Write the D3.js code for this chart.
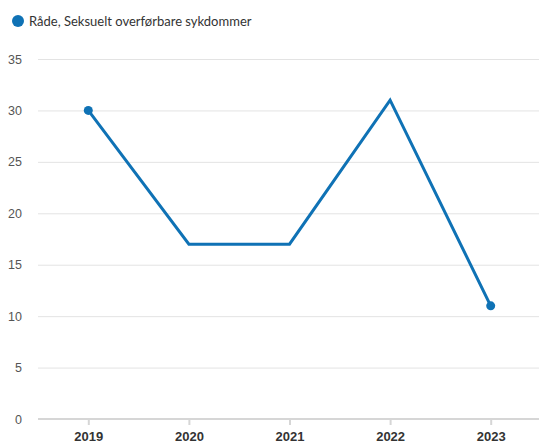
<!DOCTYPE html>
<html><head><meta charset="utf-8">
<script src="https://cdn.jsdelivr.net/npm/d3@7"></script>
<style>body{margin:0;background:#fff}svg{display:block;font-family:Lato,"Open Sans",sans-serif}</style>
</head><body><svg id="c" width="539" height="444"></svg>
<script>
const years = ["2019","2020","2021","2022","2023"];
const values = [30,17,17,31,11];
const yTicks = [0,5,10,15,20,25,30,35];
const seriesName = "Råde, Seksuelt overførbare sykdommer";
const color = "#0f72b5";

const svg = d3.select("#c");
const x = d3.scalePoint().domain(years).range([38,541]).padding(0.5);
const y = d3.scaleLinear().domain([0,35]).range([419,59]);

const yAxis = svg.append("g").attr("transform","translate(38,0)")
  .call(d3.axisLeft(y).tickValues(yTicks).tickSize(-501).tickPadding(16));
yAxis.select(".domain").remove();
yAxis.selectAll(".tick line").attr("stroke","#e3e3e3");
yAxis.selectAll(".tick text").attr("fill","#555").attr("font-size",12.5).attr("x",-16).attr("text-anchor","end");

const xAxis = svg.append("g").attr("transform","translate(0,419)")
  .call(d3.axisBottom(x).tickSize(6).tickPadding(7));
xAxis.select(".domain").attr("d","M38,0H539").attr("stroke","#d6d6d6").attr("stroke-width",2);
xAxis.selectAll(".tick line").attr("stroke","#d6d6d6").attr("stroke-width",2);
xAxis.selectAll(".tick text").attr("fill","#333").attr("font-size",13).attr("font-weight","bold");

const line = d3.line().x((d,i)=>x(years[i])).y(d=>y(d));
svg.append("path").datum(values).attr("d",line).attr("fill","none")
  .attr("stroke",color).attr("stroke-width",3).attr("stroke-linejoin","miter");

const ends = [0, values.length-1];
svg.selectAll("circle.pt").data(ends).join("circle").attr("class","pt")
  .attr("cx",i=>x(years[i])).attr("cy",i=>y(values[i])).attr("r",4.5).attr("fill",color);

const lg = svg.append("g");
lg.append("circle").attr("cx",18).attr("cy",21).attr("r",6).attr("fill",color);
lg.append("text").attr("x",29).attr("y",25.5).attr("font-size",13).attr("fill","#333").text(seriesName);
</script></body></html>
